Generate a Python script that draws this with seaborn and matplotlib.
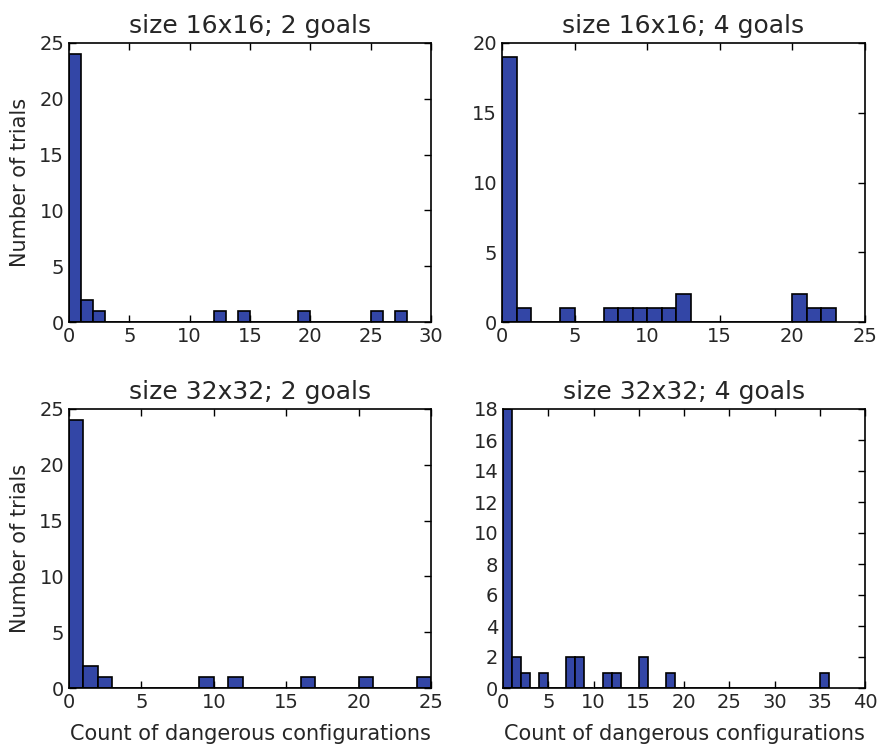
import numpy as np
import pandas as pd
import seaborn as sns
import matplotlib
matplotlib.use("Agg")
import matplotlib.pyplot as plt

BAR_COLOR = "#3346a6"
TITLE_SIZE = 18
LABEL_SIZE = 15
TICK_SIZE = 14

# counts of dangerous configurations (value) and how many trials had it (count)
values_16_2 = [0, 1, 2, 12, 14, 19, 25, 27]
counts_16_2 = [24, 2, 1, 1, 1, 1, 1, 1]

values_16_4 = [0, 1, 4, 7, 8, 9, 10, 11, 12, 20, 21, 22]
counts_16_4 = [19, 1, 1, 1, 1, 1, 1, 1, 2, 2, 1, 1]

values_32_2 = [0, 1, 2, 9, 11, 16, 20, 24]
counts_32_2 = [24, 2, 1, 1, 1, 1, 1, 1]

values_32_4 = [0, 1, 2, 4, 7, 8, 11, 12, 15, 18, 35]
counts_32_4 = [18, 2, 1, 1, 2, 2, 1, 1, 2, 1, 1]

titles = ["size 16x16; 2 goals", "size 16x16; 4 goals",
          "size 32x32; 2 goals", "size 32x32; 4 goals"]
xlims = [30, 25, 25, 40]
ylims = [25, 20, 25, 18]
ysteps = [5, 5, 5, 2]

panels = [(values_16_2, counts_16_2), (values_16_4, counts_16_4),
          (values_32_2, counts_32_2), (values_32_4, counts_32_4)]

sns.set_style("ticks", {"xtick.direction": "in", "ytick.direction": "in",
                        "axes.edgecolor": "black"})
plt.rcParams["font.family"] = ["DejaVu Sans"]

fig = plt.figure(figsize=(8.81, 7.47), dpi=100)
W, H = 881, 747
boxes = [(69, 43, 431, 322), (502, 43, 865, 322),
         (69, 409, 431, 688), (503, 409, 865, 688)]

for i, ((vals, cnts), box) in enumerate(zip(panels, boxes)):
    l, t, r, b = box
    ax = fig.add_axes([l / W, 1 - b / H, (r - l) / W, (b - t) / H])
    df = pd.DataFrame({"value": vals, "count": cnts})
    sns.histplot(data=df, x="value", weights="count", binwidth=1,
                 binrange=(0, max(vals) + 1), color=BAR_COLOR, alpha=1,
                 edgecolor="black", linewidth=1.2, ax=ax)
    ax.set_xlim(0, xlims[i])
    ax.set_ylim(0, ylims[i])
    ax.set_xticks(np.arange(0, xlims[i] + 1, 5))
    ax.set_yticks(np.arange(0, ylims[i] + 1, ysteps[i]))
    ax.tick_params(top=True, right=True, labelsize=TICK_SIZE, length=5,
                   width=1, colors="black", labelcolor=".15")
    for s in ax.spines.values():
        s.set_linewidth(1.2)
    ax.set_title(titles[i], fontsize=TITLE_SIZE, color=".15", pad=7)
    ax.set_ylabel("Number of trials" if i % 2 == 0 else "", fontsize=LABEL_SIZE,
                  color=".15", labelpad=7)
    ax.set_xlabel("Count of dangerous configurations" if i >= 2 else "",
                  fontsize=LABEL_SIZE, color=".15", labelpad=9)

fig.savefig("out.png", dpi=100)
